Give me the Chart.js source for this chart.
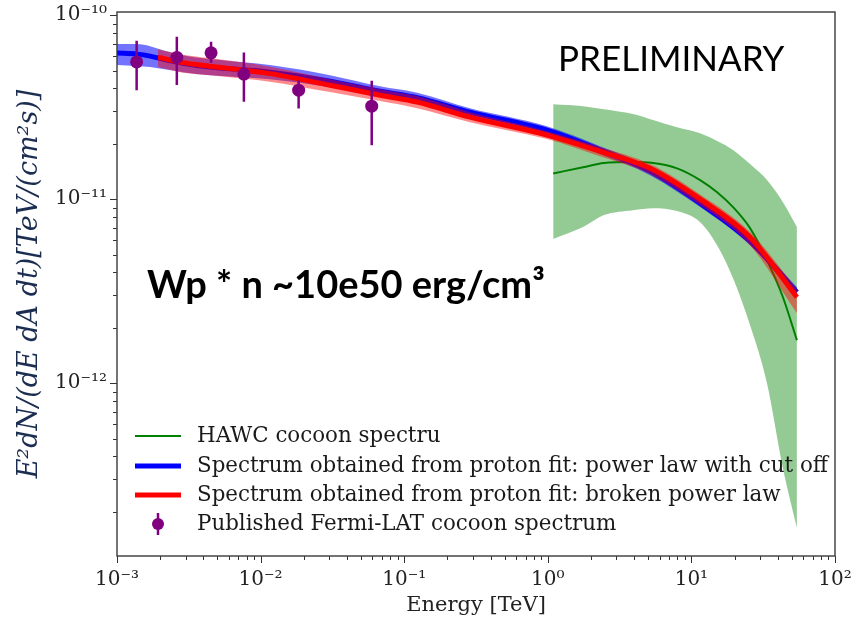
<!DOCTYPE html>
<html>
<head>
<meta charset="utf-8">
<script src="https://cdn.jsdelivr.net/npm/chart.js@4.4.0/dist/chart.umd.min.js"></script>
<style>
  html, body { margin: 0; padding: 0; background: #fff; }
  #myChart { display: block; }
</style>
</head>
<body>
<canvas id="myChart" width="854" height="621"></canvas>
<script>
// energies in TeV, fluxes as E^2 dN/dE in TeV/(cm^2 s)
const xTicks = [1e-3, 1e-2, 1e-1, 1, 10, 100];
const yTicks = [1e-12, 1e-11, 1e-10];
const xMin = 1e-3, xMax = 1e2;
const yMin = 1.15e-13, yMax = 1.04e-10;

// HAWC cocoon spectrum + band
const hawcE = [1.09, 1.76, 2.46, 3.92, 5.40, 7.94, 11.5, 15.1, 19.5, 25.6, 33.6, 43.4, 54.3];
const hawcFlux = [1.38e-11, 1.49e-11, 1.57e-11, 1.59e-11, 1.57e-11, 1.47e-11, 1.27e-11, 1.09e-11, 9.05e-12, 6.96e-12, 4.66e-12, 2.93e-12, 1.71e-12];
const hawcUpper = [3.28e-11, 3.20e-11, 3.08e-11, 2.90e-11, 2.69e-11, 2.46e-11, 2.28e-11, 2.07e-11, 1.85e-11, 1.55e-11, 1.27e-11, 9.63e-12, 7.05e-12];
const hawcLower = [6.07e-12, 7.05e-12, 8.19e-12, 8.71e-12, 8.93e-12, 8.61e-12, 7.50e-12, 5.62e-12, 3.72e-12, 2.07e-12, 1.0e-12, 3.45e-13, 1.63e-13];

// proton fit: power law with cut off
const cutoffE = [1.0e-3, 1.38e-3, 1.70e-3, 2.09e-3, 2.88e-3, 4.44e-3, 1.16e-2, 3.04e-2, 6.79e-2, 0.123, 0.287, 0.986, 2.31, 5.15, 11.5, 25.6, 54.3];
const cutoffFlux = [6.22e-11, 6.14e-11, 5.99e-11, 5.77e-11, 5.48e-11, 5.22e-11, 4.90e-11, 4.38e-11, 3.86e-11, 3.56e-11, 2.97e-11, 2.37e-11, 1.85e-11, 1.42e-11, 9.51e-12, 5.91e-12, 3.12e-12];
const cutoffUpper = [6.96e-11, 6.96e-11, 6.78e-11, 6.45e-11, 6.06e-11, 5.77e-11, 5.35e-11, 4.72e-11, 4.11e-11, 3.79e-11, 3.12e-11, 2.49e-11, 1.94e-11, 1.49e-11, 1.0e-11, 6.21e-12, 3.32e-12];
const cutoffLower = [5.35e-11, 5.28e-11, 5.22e-11, 5.09e-11, 4.90e-11, 4.72e-11, 4.49e-11, 4.06e-11, 3.63e-11, 3.34e-11, 2.83e-11, 2.26e-11, 1.76e-11, 1.35e-11, 9.05e-12, 5.62e-12, 2.93e-12];

// proton fit: broken power law
const brokenE = [1.93e-3, 2.88e-3, 4.44e-3, 1.16e-2, 3.04e-2, 6.79e-2, 0.123, 0.287, 0.986, 2.31, 5.15, 11.5, 25.6, 54.3];
const brokenFlux = [5.91e-11, 5.52e-11, 5.28e-11, 4.81e-11, 4.16e-11, 3.67e-11, 3.37e-11, 2.79e-11, 2.23e-11, 1.82e-11, 1.47e-11, 1.0e-11, 6.21e-12, 2.93e-12];
const brokenUpper = [6.53e-11, 6.10e-11, 5.84e-11, 5.25e-11, 4.49e-11, 3.96e-11, 3.63e-11, 2.97e-11, 2.34e-11, 1.92e-11, 1.55e-11, 1.06e-11, 6.62e-12, 3.24e-12];
const brokenLower = [5.22e-11, 4.87e-11, 4.72e-11, 4.35e-11, 3.82e-11, 3.41e-11, 3.12e-11, 2.62e-11, 2.12e-11, 1.71e-11, 1.37e-11, 9.28e-12, 5.62e-12, 2.40e-12];

// Fermi-LAT points with error bars
const fermiE = [1.37e-3, 2.61e-3, 4.52e-3, 7.65e-3, 1.84e-2, 5.94e-2];
const fermiFlux = [5.57e-11, 5.89e-11, 6.24e-11, 4.78e-11, 3.91e-11, 3.20e-11];
const fermiHigh = [7.25e-11, 7.62e-11, 7.16e-11, 6.27e-11, 4.43e-11, 4.40e-11];
const fermiLow = [3.91e-11, 4.17e-11, 5.51e-11, 3.38e-11, 3.11e-11, 1.96e-11];

const legendLabels = [
    'HAWC cocoon spectru',
    'Spectrum obtained from proton fit: power law with cut off',
    'Spectrum obtained from proton fit: broken power law',
    'Published Fermi-LAT cocoon spectrum'
];

const GREEN = '#008000', BLUE = '#0000ff', RED = '#ff0000', PURPLE = '#800080';
const serif = 'DejaVu Serif';

function pts(xs, ys) {
    return xs.map((x, i) => ({x: x, y: ys[i]}));
}

const supDigits = {'-': '\u207b', '0': '\u2070', '1': '\u00b9', '2': '\u00b2', '3': '\u00b3',
    '4': '\u2074', '5': '\u2075', '6': '\u2076', '7': '\u2077', '8': '\u2078', '9': '\u2079'};

function powLabel(v) {
    const e = Math.round(Math.log10(v));
    return '10' + String(e).split('').map(c => supDigits[c]).join('');
}

function band(xs, ys, color, order, fill) {
    return {
        data: pts(xs, ys),
        borderWidth: 0,
        borderColor: 'transparent',
        backgroundColor: color,
        pointRadius: 0,
        fill: fill,
        cubicInterpolationMode: 'monotone',
        order: order
    };
}

function curve(xs, ys, color, width, order) {
    return {
        data: pts(xs, ys),
        borderColor: color,
        borderWidth: width,
        pointRadius: 0,
        fill: false,
        cubicInterpolationMode: 'monotone',
        order: order
    };
}

// frame + tick marks (major and minor) on the log axes
const framePlugin = {
    id: 'frame',
    afterDraw(chart) {
        const {ctx, chartArea: a, scales} = chart;
        ctx.save();
        ctx.strokeStyle = '#333';
        ctx.lineWidth = 1;
        const marks = (scale, lo, hi, draw) => {
            for (let e = Math.floor(Math.log10(lo)); e <= Math.ceil(Math.log10(hi)); e++) {
                for (let k = 1; k < 10; k++) {
                    const v = k * Math.pow(10, e);
                    if (v < lo * 0.999 || v > hi * 1.001) continue;
                    draw(scale.getPixelForValue(v), k === 1 ? 7 : 4);
                }
            }
        };
        ctx.beginPath();
        marks(scales.x, xMin, xMax, (px, len) => {
            ctx.moveTo(Math.round(px) + 0.5, a.bottom);
            ctx.lineTo(Math.round(px) + 0.5, a.bottom + len);
        });
        marks(scales.y, yMin, yMax, (py, len) => {
            ctx.moveTo(a.left, Math.round(py) + 0.5);
            ctx.lineTo(a.left - len, Math.round(py) + 0.5);
        });
        ctx.stroke();
        ctx.lineWidth = 1.4;
        ctx.strokeStyle = '#3a3a3a';
        ctx.strokeRect(a.left, a.top, a.right - a.left, a.bottom - a.top);
        ctx.restore();
    }
};

// vertical error bars for the Fermi-LAT points
const errorBarPlugin = {
    id: 'errorBars',
    afterDatasetsDraw(chart) {
        const {ctx, scales} = chart;
        ctx.save();
        ctx.strokeStyle = PURPLE;
        ctx.lineWidth = 2.5;
        ctx.beginPath();
        fermiE.forEach((e, i) => {
            const px = scales.x.getPixelForValue(e);
            ctx.moveTo(px, scales.y.getPixelForValue(fermiHigh[i]));
            ctx.lineTo(px, scales.y.getPixelForValue(fermiLow[i]));
        });
        ctx.stroke();
        ctx.restore();
    }
};

// legend box in the lower left of the axes, plus the slide annotations
const legendPlugin = {
    id: 'sideLegend',
    afterDraw(chart) {
        const {ctx} = chart;
        ctx.save();
        const rows = [436, 466, 495, 524];
        const x0 = 135, x1 = 181, tx = 197;
        ctx.lineCap = 'butt';
        // HAWC
        ctx.strokeStyle = GREEN; ctx.lineWidth = 2;
        ctx.beginPath(); ctx.moveTo(x0, rows[0]); ctx.lineTo(x1, rows[0]); ctx.stroke();
        // cut off
        ctx.strokeStyle = BLUE; ctx.lineWidth = 5;
        ctx.beginPath(); ctx.moveTo(x0, rows[1]); ctx.lineTo(x1, rows[1]); ctx.stroke();
        // broken
        ctx.strokeStyle = RED; ctx.lineWidth = 5;
        ctx.beginPath(); ctx.moveTo(x0, rows[2]); ctx.lineTo(x1, rows[2]); ctx.stroke();
        // fermi
        ctx.strokeStyle = PURPLE; ctx.lineWidth = 2.5;
        ctx.beginPath(); ctx.moveTo(158, rows[3] - 11); ctx.lineTo(158, rows[3] + 11); ctx.stroke();
        ctx.fillStyle = PURPLE;
        ctx.beginPath(); ctx.arc(158, rows[3], 6, 0, Math.PI * 2); ctx.fill();

        ctx.fillStyle = '#1a1a1a';
        ctx.font = '21.4px "' + serif + '"';
        ctx.textBaseline = 'middle';
        legendLabels.forEach((t, i) => ctx.fillText(t, tx, rows[i]));

        ctx.fillStyle = '#000';
        ctx.textBaseline = 'alphabetic';
        ctx.font = '35px Lato';
        ctx.fillText('PRELIMINARY', 558, 71);
        ctx.font = 'bold 38px Lato';
        ctx.fillText('Wp * n ~10e50 erg/cm\u00b3', 147, 298);
        ctx.restore();
    }
};

const ctx = document.getElementById('myChart');

new Chart(ctx, {
    type: 'line',
    data: {
        datasets: [
            {
                label: legendLabels[3],
                data: pts(fermiE, fermiFlux),
                showLine: false,
                pointRadius: 6.5,
                pointBorderWidth: 0,
                pointBackgroundColor: PURPLE,
                borderColor: PURPLE,
                order: 0
            },
            Object.assign(curve(brokenE, brokenFlux, RED, 5, 1), {label: legendLabels[2]}),
            band(brokenE, brokenUpper, 'rgba(255,0,0,0.45)', 2, '+1'),
            band(brokenE, brokenLower, 'rgba(255,0,0,0.45)', 2, false),
            Object.assign(curve(cutoffE, cutoffFlux, BLUE, 5, 3), {label: legendLabels[1]}),
            band(cutoffE, cutoffUpper, 'rgba(0,0,255,0.55)', 4, '+1'),
            band(cutoffE, cutoffLower, 'rgba(0,0,255,0.55)', 4, false),
            Object.assign(curve(hawcE, hawcFlux, GREEN, 2, 5), {label: legendLabels[0]}),
            band(hawcE, hawcUpper, 'rgba(0,128,0,0.42)', 6, '+1'),
            band(hawcE, hawcLower, 'rgba(0,128,0,0.42)', 6, false)
        ]
    },
    options: {
        responsive: false,
        animation: false,
        devicePixelRatio: 1,
        layout: {
            padding: {left: 0, right: 19, top: 12, bottom: 0}
        },
        plugins: {
            legend: {display: false},
            tooltip: {enabled: false}
        },
        scales: {
            x: {
                type: 'logarithmic',
                min: xMin,
                max: xMax,
                afterBuildTicks: (s) => { s.ticks = xTicks.map(v => ({value: v})); },
                afterFit: (s) => { s.height = 65; s.paddingLeft = 0; s.paddingRight = 0; },
                grid: {display: false, drawTicks: false},
                border: {display: false},
                ticks: {
                    autoSkip: false,
                    maxRotation: 0,
                    padding: 12,
                    color: '#222',
                    font: {family: serif, size: 20},
                    callback: (v) => powLabel(v)
                },
                title: {
                    display: true,
                    text: 'Energy [TeV]',
                    color: '#222',
                    font: {family: serif, size: 21},
                    padding: {top: 0, bottom: 3}
                }
            },
            y: {
                type: 'logarithmic',
                min: yMin,
                max: yMax,
                afterBuildTicks: (s) => { s.ticks = yTicks.map(v => ({value: v})); },
                afterFit: (s) => { s.width = 117; s.paddingTop = 0; s.paddingBottom = 0; },
                grid: {display: false, drawTicks: false},
                border: {display: false},
                ticks: {
                    autoSkip: false,
                    padding: 10,
                    color: '#222',
                    font: {family: serif, size: 20},
                    callback: (v) => powLabel(v)
                },
                title: {
                    display: true,
                    text: 'E\u00b2dN/(dE dA dt)[TeV/(cm\u00b2s)]',
                    color: '#1b2d50',
                    font: {family: serif, size: 27, style: 'italic'},
                    padding: {top: 14, bottom: 0}
                }
            }
        }
    },
    plugins: [errorBarPlugin, framePlugin, legendPlugin]
});
</script>
</body>
</html>
